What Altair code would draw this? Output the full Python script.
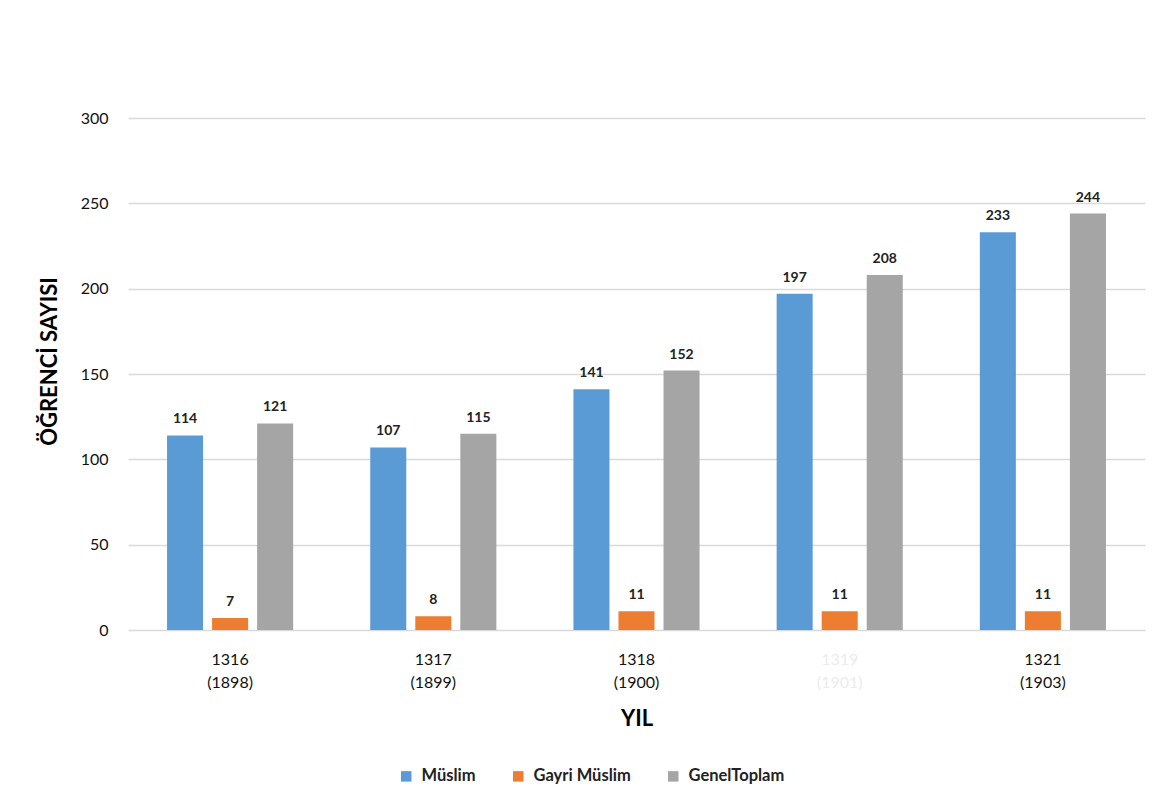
import altair as alt
import pandas as pd

years = ["1316 (1898)", "1317 (1899)", "1318 (1900)", "1319 (1901)", "1321 (1903)"]
series = ["Müslim", "Gayri Müslim", "GenelToplam"]
muslim = [114, 107, 141, 197, 233]
gayri = [7, 8, 11, 11, 11]
genel = [121, 115, 152, 208, 244]
colors = ["#5B9BD5", "#ED7D31", "#A5A5A5"]

rows = []
for i, y in enumerate(years):
    for s, vals in zip(series, [muslim, gayri, genel]):
        rows.append({"yil": y, "seri": s, "deger": vals[i]})
df = pd.DataFrame(rows)

FONT = "Lato"

base = alt.Chart(df).encode(
    x=alt.X(
        "yil:N",
        sort=years,
        scale=alt.Scale(paddingInner=0.335, paddingOuter=0.17),
        axis=alt.Axis(
            title="YIL",
            labelAngle=0,
            labelExpr="split(datum.label, ' ')",
            labelFontSize=16,
            labelFont=FONT,
            labelColor={"condition": {"test": "datum.value == '1319 (1901)'", "value": "#ececec"}, "value": "#111111"},
            labelPadding=21,
            labelLineHeight=23,
            ticks=False,
            domain=False,
            titleFontSize=22,
            titleFont=FONT,
            titleFontWeight="bold",
            titleColor="#000000",
            titleBaseline="middle",
            titleY=88,
        ),
    ),
    xOffset=alt.XOffset(
        "seri:N", sort=series, scale=alt.Scale(paddingInner=0.2, paddingOuter=0.1)
    ),
    y=alt.Y(
        "deger:Q",
        scale=alt.Scale(domain=[0, 300]),
        axis=alt.Axis(
            title="ÖĞRENCİ SAYISI",
            values=[0, 50, 100, 150, 200, 250, 300],
            labelFontSize=16,
            labelFont=FONT,
            labelColor="#111111",
            labelPadding=20,
            ticks=False,
            domain=False,
            gridColor="#d9d9d9",
            gridWidth=1.5,
            titleFontSize=22,
            titleFont=FONT,
            titleFontWeight="bold",
            titleColor="#000000",
            titleAngle=270,
            titleAlign="center",
            titleBaseline="middle",
            titleX=-79,
            titleY=243,
        ),
    ),
)

bars = base.mark_bar().encode(
    color=alt.Color(
        "seri:N",
        sort=series,
        scale=alt.Scale(domain=series, range=colors),
        legend=alt.Legend(
            title=None,
            orient="none",
            direction="horizontal",
            legendX=270,
            legendY=650,
            symbolType="square",
            symbolSize=110,
            symbolStrokeWidth=0,
            labelFontSize=16.5,
            labelFont=FONT,
            labelFontWeight="bold",
            labelColor="#222222",
            columnPadding=34,
            labelOffset=7,
        ),
    )
)

text = base.mark_text(
    baseline="bottom", dy=-9, fontSize=14, font=FONT, fontWeight="bold", color="#222222"
).encode(text="deger:Q")

chart = (
    (bars + text)
    .properties(
        width=1017,
        height=512,
        padding={"left": 120, "top": 110, "right": 15, "bottom": 160},
        autosize=alt.AutoSizeParams(type="none"),
    )
    .configure(background="white")
    .configure_view(stroke=None)
)

chart.save("out.html", embed_options={"renderer": "svg", "actions": False})
